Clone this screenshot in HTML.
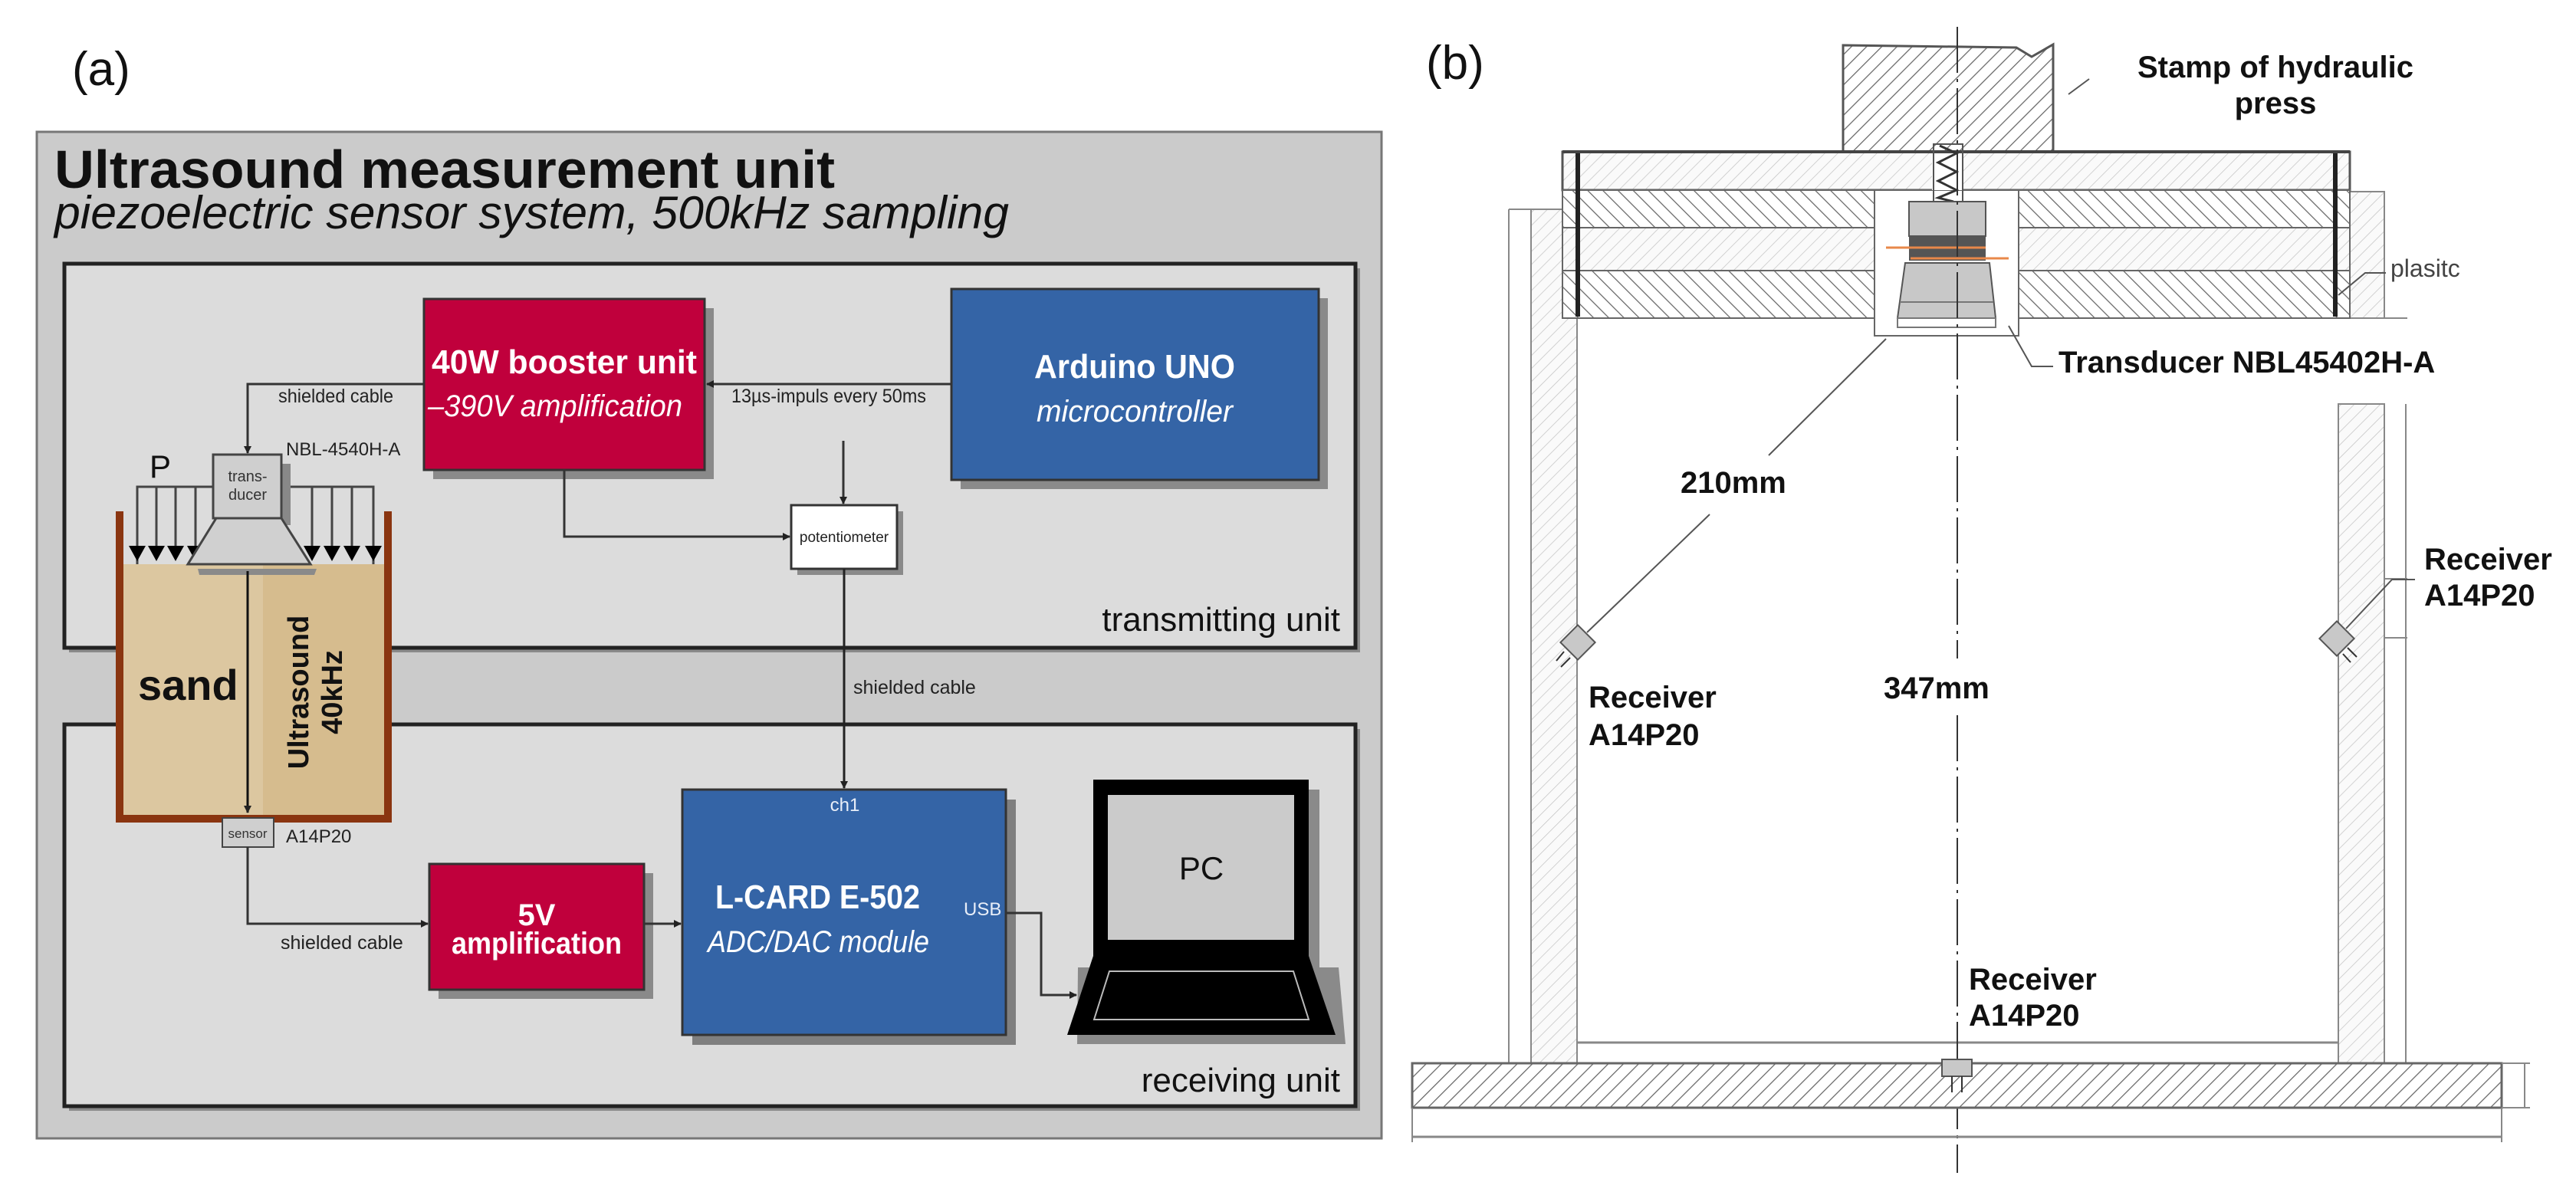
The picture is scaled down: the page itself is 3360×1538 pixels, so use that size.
<!DOCTYPE html>
<html><head><meta charset="utf-8"><style>
html,body{margin:0;padding:0;background:#fff;}
svg{display:block;}
text{font-family:"Liberation Sans",sans-serif;}
</style></head><body>
<svg width="3360" height="1538" viewBox="0 0 3360 1538" xmlns="http://www.w3.org/2000/svg">
<defs>
<pattern id="hd" width="14" height="14" patternUnits="userSpaceOnUse" patternTransform="rotate(45)">
<rect width="14" height="14" fill="#fff"/><line x1="0" y1="0" x2="0" y2="14" stroke="#666" stroke-width="2.5"/></pattern>
<pattern id="hl" width="12" height="12" patternUnits="userSpaceOnUse" patternTransform="rotate(45)">
<rect width="12" height="12" fill="#fafafa"/><line x1="0" y1="0" x2="0" y2="12" stroke="#c4c4c4" stroke-width="1.5"/></pattern>
<pattern id="hr" width="14" height="14" patternUnits="userSpaceOnUse" patternTransform="rotate(-45)">
<rect width="14" height="14" fill="#fff"/><line x1="0" y1="0" x2="0" y2="14" stroke="#666" stroke-width="2.5"/></pattern>
<marker id="ar" markerWidth="10" markerHeight="10" refX="9" refY="5" orient="auto" markerUnits="userSpaceOnUse"><path d="M0,0 L10,5 L0,10 Z" fill="#222"/></marker>
<marker id="ab" markerWidth="30" markerHeight="26" refX="15" refY="26" orient="0" markerUnits="userSpaceOnUse"><path d="M2,6 L28,6 L15,26 Z" fill="#000"/></marker>
</defs>

<!-- ============ PANEL A ============ -->
<text x="94" y="111" font-size="62" fill="#111">(a)</text>
<rect x="48" y="172" width="1754" height="1313" fill="#cbcbcb" stroke="#777" stroke-width="3"/>
<text x="71" y="245" font-size="70" font-weight="bold" fill="#111" textLength="1018" lengthAdjust="spacingAndGlyphs">Ultrasound measurement unit</text>
<text x="71" y="298" font-size="60" font-style="italic" fill="#111" textLength="1245" lengthAdjust="spacingAndGlyphs">piezoelectric sensor system, 500kHz sampling</text>

<!-- transmitting box -->
<rect x="90" y="350" width="1684" height="501" fill="#8a8a8a"/>
<rect x="84" y="344" width="1684" height="501" fill="#dcdcdc" stroke="#222" stroke-width="5"/>
<text x="1748" y="823" font-size="44" fill="#111" text-anchor="end">transmitting unit</text>
<!-- receiving box -->
<rect x="90" y="951" width="1684" height="498" fill="#8a8a8a"/>
<rect x="84" y="945" width="1684" height="498" fill="#dcdcdc" stroke="#222" stroke-width="5"/>
<text x="1748" y="1424" font-size="44" fill="#111" text-anchor="end">receiving unit</text>

<!-- sand container -->
<rect x="161" y="736" width="182" height="331" fill="#dcc7a0"/>
<rect x="343" y="736" width="158" height="331" fill="#d6bc8e"/>
<rect x="151" y="667" width="10" height="406" fill="#8a3510"/>
<rect x="501" y="667" width="10" height="406" fill="#8a3510"/>
<rect x="151" y="1063" width="360" height="10" fill="#8a3510"/>
<text x="180" y="913" font-size="56" font-weight="bold" fill="#111">sand</text>
<text transform="translate(402,903) rotate(-90)" font-size="38" font-weight="bold" fill="#111" text-anchor="middle">Ultrasound</text>
<text transform="translate(446,903) rotate(-90)" font-size="38" font-weight="bold" fill="#111" text-anchor="middle">40kHz</text>

<!-- pressure arrows -->
<text x="195" y="623" font-size="42" fill="#111">P</text>
<polyline points="179,736 179,635 282,635" fill="none" stroke="#444" stroke-width="3"/>
<polyline points="367,635 487,635 487,736" fill="none" stroke="#444" stroke-width="3"/>
<g stroke="#444" stroke-width="3">
<line x1="179" y1="635" x2="179" y2="722"/><line x1="204" y1="635" x2="204" y2="722"/><line x1="229" y1="635" x2="229" y2="722"/><line x1="255" y1="635" x2="255" y2="722"/>
<line x1="407" y1="635" x2="407" y2="722"/><line x1="433" y1="635" x2="433" y2="722"/><line x1="459" y1="635" x2="459" y2="722"/><line x1="487" y1="635" x2="487" y2="722"/>
</g>
<g fill="#000">
<path d="M168,712 L190,712 L179,732Z"/><path d="M193,712 L215,712 L204,732Z"/><path d="M218,712 L240,712 L229,732Z"/><path d="M244,712 L266,712 L255,732Z"/>
<path d="M396,712 L418,712 L407,732Z"/><path d="M422,712 L444,712 L433,732Z"/><path d="M448,712 L470,712 L459,732Z"/><path d="M476,712 L498,712 L487,732Z"/>
</g>
<!-- transducer -->
<rect x="367" y="605" width="12" height="80" fill="#888"/>
<rect x="278" y="593" width="89" height="83" fill="#cfcfcf" stroke="#444" stroke-width="3"/>
<text x="323" y="628" font-size="20" fill="#333" text-anchor="middle">trans-</text>
<text x="323" y="652" font-size="20" fill="#333" text-anchor="middle">ducer</text>
<polygon points="258,742 413,742 410,750 260,750" fill="#8a8a8a"/>
<polygon points="282,676 367,676 405,736 245,736" fill="#d0d0d0" stroke="#444" stroke-width="3"/>
<text x="373" y="594" font-size="24" fill="#222">NBL-4540H-A</text>
<line x1="323" y1="745" x2="323" y2="1060" stroke="#111" stroke-width="3" marker-end="url(#ar)"/>
<!-- sensor -->
<rect x="290" y="1067" width="67" height="38" fill="#cfcfcf" stroke="#444" stroke-width="2"/>
<text x="323" y="1093" font-size="17" fill="#333" text-anchor="middle">sensor</text>
<text x="373" y="1099" font-size="24" fill="#222">A14P20</text>

<!-- booster -->
<rect x="565" y="402" width="366" height="223" fill="#8a8a8a"/>
<rect x="553" y="390" width="366" height="223" fill="#c0003c" stroke="#333" stroke-width="3"/>
<text x="736" y="487" font-size="44" font-weight="bold" fill="#fff" text-anchor="middle" textLength="346" lengthAdjust="spacingAndGlyphs">40W booster unit</text>
<text x="558" y="543" font-size="40" font-style="italic" fill="#fff" textLength="332" lengthAdjust="spacingAndGlyphs">–390V amplification</text>
<!-- arduino -->
<rect x="1253" y="389" width="479" height="249" fill="#8a8a8a"/>
<rect x="1241" y="377" width="479" height="249" fill="#3464a6" stroke="#333" stroke-width="3"/>
<text x="1480" y="493" font-size="44" font-weight="bold" fill="#fff" text-anchor="middle" textLength="262" lengthAdjust="spacingAndGlyphs">Arduino UNO</text>
<text x="1480" y="550" font-size="40" font-style="italic" fill="#fff" text-anchor="middle" textLength="256" lengthAdjust="spacingAndGlyphs">microcontroller</text>
<line x1="1241" y1="501" x2="922" y2="501" stroke="#333" stroke-width="3" marker-end="url(#ar)"/>
<text x="954" y="525" font-size="25" fill="#222" textLength="254" lengthAdjust="spacingAndGlyphs">13µs-impuls every 50ms</text>
<!-- cable booster to transducer -->
<polyline points="553,501 323,501 323,591" fill="none" stroke="#333" stroke-width="3" marker-end="url(#ar)"/>
<text x="363" y="525" font-size="25" fill="#222" textLength="150" lengthAdjust="spacingAndGlyphs">shielded cable</text>
<!-- potentiometer -->
<rect x="1040" y="667" width="138" height="83" fill="#8a8a8a"/>
<rect x="1032" y="659" width="138" height="83" fill="#fff" stroke="#333" stroke-width="3"/>
<text x="1101" y="707" font-size="19" fill="#222" text-anchor="middle">potentiometer</text>
<line x1="1100" y1="575" x2="1100" y2="657" stroke="#333" stroke-width="3" marker-end="url(#ar)"/>
<polyline points="736,613 736,700 1030,700" fill="none" stroke="#333" stroke-width="3" marker-end="url(#ar)"/>
<line x1="1101" y1="742" x2="1101" y2="1028" stroke="#222" stroke-width="3" marker-end="url(#ar)"/>
<text x="1113" y="905" font-size="25" fill="#222">shielded cable</text>

<!-- sensor to 5V -->
<polyline points="323,1105 323,1205 558,1205" fill="none" stroke="#333" stroke-width="3" marker-end="url(#ar)"/>
<text x="366" y="1238" font-size="25" fill="#222">shielded cable</text>
<!-- 5V -->
<rect x="572" y="1139" width="280" height="164" fill="#8a8a8a"/>
<rect x="560" y="1127" width="280" height="164" fill="#c0003c" stroke="#333" stroke-width="3"/>
<text x="700" y="1207" font-size="40" font-weight="bold" fill="#fff" text-anchor="middle">5V</text>
<text x="700" y="1244" font-size="40" font-weight="bold" fill="#fff" text-anchor="middle" textLength="222" lengthAdjust="spacingAndGlyphs">amplification</text>
<line x1="840" y1="1205" x2="888" y2="1205" stroke="#333" stroke-width="3" marker-end="url(#ar)"/>
<!-- L-CARD -->
<rect x="903" y="1043" width="422" height="320" fill="#7f7f7f"/>
<rect x="890" y="1030" width="422" height="320" fill="#3464a6" stroke="#333" stroke-width="3"/>
<text x="1102" y="1058" font-size="24" fill="#e8eef8" text-anchor="middle">ch1</text>
<text x="933" y="1185" font-size="44" font-weight="bold" fill="#fff" textLength="267" lengthAdjust="spacingAndGlyphs">L-CARD E-502</text>
<text x="923" y="1242" font-size="40" font-style="italic" fill="#fff" textLength="289" lengthAdjust="spacingAndGlyphs">ADC/DAC module</text>
<text x="1257" y="1194" font-size="24" fill="#e8eef8">USB</text>
<polyline points="1312,1191 1358,1191 1358,1298 1404,1298" fill="none" stroke="#333" stroke-width="3" marker-end="url(#ar)"/>
<!-- laptop -->
<rect x="1440" y="1030" width="281" height="232" fill="#8a8a8a"/>
<polygon points="1406,1262 1746,1262 1755,1362 1405,1362" fill="#8a8a8a"/>
<rect x="1426" y="1017" width="281" height="232" fill="#000"/>
<rect x="1445" y="1037" width="243" height="189" fill="#cbcbcb"/>
<text x="1567" y="1147" font-size="42" fill="#111" text-anchor="middle">PC</text>
<polygon points="1426,1247 1707,1247 1742,1350 1392,1350" fill="#000"/>
<polygon points="1447,1267 1687,1267 1707,1330 1427,1330" fill="none" stroke="#bbb" stroke-width="2"/>

<!-- ============ PANEL B ============ -->
<text x="1860" y="103" font-size="62" fill="#111">(b)</text>
<!-- stamp -->
<path d="M2404,59 L2630,62 L2650,74 L2678,58 L2678,198 L2404,198 Z" fill="url(#hd)" stroke="#555" stroke-width="3"/>
<line x1="2698" y1="123" x2="2725" y2="103" stroke="#555" stroke-width="2"/>
<text x="2968" y="101" font-size="40" font-weight="bold" fill="#111" text-anchor="middle">Stamp of hydraulic</text>
<text x="2968" y="148" font-size="40" font-weight="bold" fill="#111" text-anchor="middle">press</text>

<!-- walls -->
<line x1="1968" y1="273" x2="1968" y2="1387" stroke="#888" stroke-width="2"/>
<line x1="1968" y1="273" x2="2040" y2="273" stroke="#888" stroke-width="2"/>
<rect x="1997" y="273" width="60" height="1114" fill="url(#hl)" stroke="#888" stroke-width="2"/>
<rect x="3050" y="527" width="60" height="860" fill="url(#hl)" stroke="#888" stroke-width="2"/>
<rect x="3065" y="250" width="45" height="165" fill="url(#hl)" stroke="#888" stroke-width="2"/>
<line x1="3138" y1="527" x2="3138" y2="1387" stroke="#888" stroke-width="2"/>
<line x1="3110" y1="255" x2="3110" y2="415" stroke="#888" stroke-width="2"/>
<line x1="3065" y1="415" x2="3140" y2="415" stroke="#888" stroke-width="2"/>
<line x1="3110" y1="832" x2="3140" y2="832" stroke="#888" stroke-width="2"/>
<line x1="3110" y1="755" x2="3140" y2="755" stroke="#888" stroke-width="2"/>
<line x1="2057" y1="1360" x2="3050" y2="1360" stroke="#888" stroke-width="3"/>

<!-- top plate -->
<rect x="2038" y="198" width="1027" height="50" fill="url(#hl)" stroke="#555" stroke-width="3"/>
<rect x="2038" y="248" width="1027" height="49" fill="url(#hr)" stroke="#666" stroke-width="2"/>
<rect x="2038" y="297" width="1027" height="56" fill="url(#hl)" stroke="#666" stroke-width="2"/>
<rect x="2038" y="353" width="1027" height="62" fill="url(#hr)" stroke="#666" stroke-width="2"/>
<rect x="2445" y="248" width="188" height="190" fill="#fff" stroke="#666" stroke-width="2"/>
<rect x="2520" y="198" width="40" height="50" fill="#fff"/>
<rect x="2055" y="200" width="6" height="213" fill="#222"/>
<rect x="3043" y="200" width="6" height="213" fill="#222"/>
<line x1="2038" y1="198" x2="3065" y2="198" stroke="#444" stroke-width="4"/>
<!-- transducer -->
<polyline points="2530,190 2552,200 2528,212 2552,224 2528,236 2552,248 2528,258 2548,263" fill="none" stroke="#333" stroke-width="3"/>
<rect x="2522" y="188" width="38" height="75" fill="none" stroke="#555" stroke-width="2"/>
<rect x="2490" y="263" width="100" height="45" fill="#c8c8c8" stroke="#555" stroke-width="2"/>
<rect x="2490" y="308" width="100" height="32" fill="#555"/>
<polygon points="2485,343 2595,343 2603,415 2475,415" fill="#c8c8c8" stroke="#555" stroke-width="2"/>
<line x1="2478" y1="394" x2="2600" y2="394" stroke="#777" stroke-width="2"/>
<line x1="2460" y1="323" x2="2590" y2="323" stroke="#e8884a" stroke-width="3"/>
<line x1="2492" y1="337" x2="2620" y2="337" stroke="#e8884a" stroke-width="3"/>
<rect x="2475" y="415" width="128" height="12" fill="none" stroke="#777" stroke-width="2"/>
<!-- centerline -->
<line x1="2553" y1="35" x2="2553" y2="859" stroke="#333" stroke-width="2" stroke-dasharray="60,8,4,8"/>
<line x1="2553" y1="933" x2="2553" y2="1530" stroke="#333" stroke-width="2" stroke-dasharray="60,8,4,8"/>
<!-- base plate -->
<rect x="1842" y="1387" width="1421" height="58" fill="url(#hd)" stroke="#666" stroke-width="3"/>
<line x1="1842" y1="1445" x2="1842" y2="1490" stroke="#888" stroke-width="2"/>
<line x1="3263" y1="1445" x2="3263" y2="1490" stroke="#888" stroke-width="2"/>
<line x1="1842" y1="1483" x2="3263" y2="1483" stroke="#888" stroke-width="3"/>
<line x1="3263" y1="1387" x2="3300" y2="1387" stroke="#888" stroke-width="2"/>
<line x1="3263" y1="1445" x2="3300" y2="1445" stroke="#888" stroke-width="2"/>
<line x1="3293" y1="1387" x2="3293" y2="1445" stroke="#888" stroke-width="2"/>

<!-- diagonal 210mm -->
<line x1="2460" y1="442" x2="2307" y2="594" stroke="#555" stroke-width="2"/>
<line x1="2230" y1="671" x2="2070" y2="825" stroke="#555" stroke-width="2"/>
<text x="2192" y="643" font-size="40" font-weight="bold" fill="#111">210mm</text>
<text x="2457" y="911" font-size="40" font-weight="bold" fill="#111">347mm</text>

<!-- receivers -->
<g transform="translate(2058,838) rotate(45)"><rect x="-16" y="-16" width="32" height="32" fill="#c8c8c8" stroke="#555" stroke-width="2"/></g>
<line x1="2040" y1="850" x2="2030" y2="862" stroke="#333" stroke-width="2"/><line x1="2048" y1="858" x2="2036" y2="870" stroke="#333" stroke-width="2"/>
<text x="2072" y="923" font-size="40" font-weight="bold" fill="#111">Receiver</text>
<text x="2072" y="972" font-size="40" font-weight="bold" fill="#111">A14P20</text>

<g transform="translate(3048,833) rotate(45)"><rect x="-16" y="-16" width="32" height="32" fill="#c8c8c8" stroke="#555" stroke-width="2"/></g>
<line x1="3062" y1="845" x2="3074" y2="857" stroke="#333" stroke-width="2"/><line x1="3056" y1="853" x2="3066" y2="864" stroke="#333" stroke-width="2"/>
<polyline points="3060,820 3120,756 3150,756" fill="none" stroke="#555" stroke-width="2"/>
<text x="3162" y="743" font-size="40" font-weight="bold" fill="#111">Receiver</text>
<text x="3162" y="790" font-size="40" font-weight="bold" fill="#111">A14P20</text>

<rect x="2533" y="1382" width="39" height="22" fill="#c8c8c8" stroke="#555" stroke-width="2"/>
<line x1="2546" y1="1404" x2="2546" y2="1425" stroke="#333" stroke-width="2"/><line x1="2559" y1="1404" x2="2559" y2="1425" stroke="#333" stroke-width="2"/>
<text x="2568" y="1291" font-size="40" font-weight="bold" fill="#111">Receiver</text>
<text x="2568" y="1338" font-size="40" font-weight="bold" fill="#111">A14P20</text>

<!-- plastic & transducer labels -->
<polyline points="3050,385 3085,356 3112,356" fill="none" stroke="#555" stroke-width="2"/>
<text x="3118" y="361" font-size="32" fill="#444">plasitc</text>
<polyline points="2620,425 2650,478 2678,478" fill="none" stroke="#555" stroke-width="2"/>
<text x="2685" y="486" font-size="40" font-weight="bold" fill="#111">Transducer NBL45402H-A</text>
</svg>
</body></html>
